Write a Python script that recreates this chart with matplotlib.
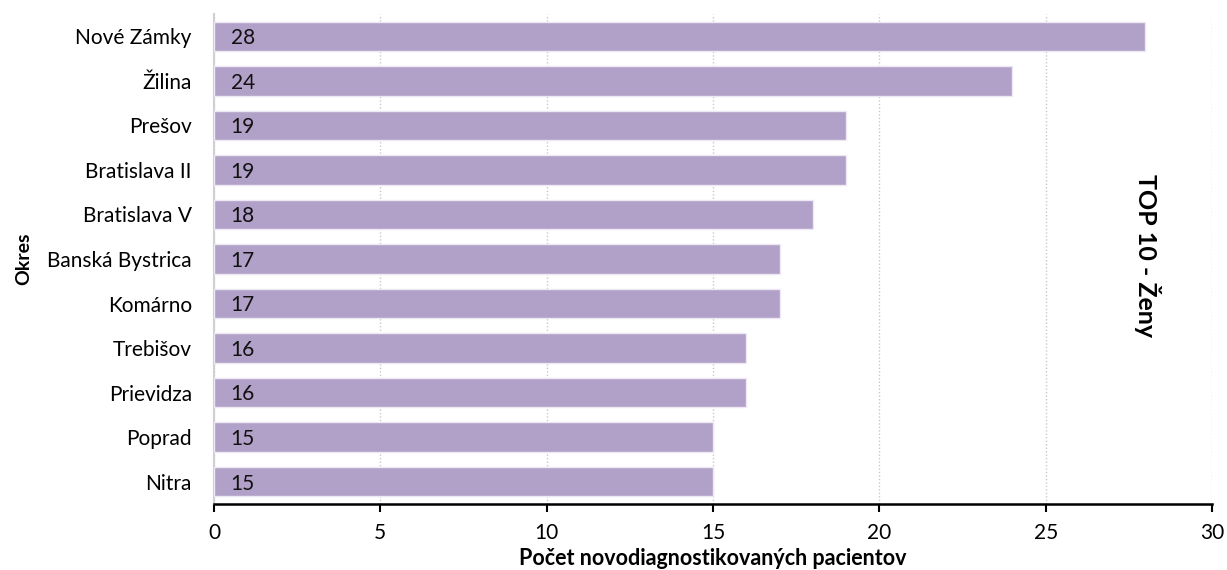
import matplotlib
matplotlib.use("Agg")
import matplotlib.pyplot as plt

districts = ["Nové Zámky", "Žilina", "Prešov", "Bratislava II", "Bratislava V",
             "Banská Bystrica", "Komárno", "Trebišov", "Prievidza", "Poprad", "Nitra"]
counts = [28, 24, 19, 19, 18, 17, 17, 16, 16, 15, 15]
x_ticks = [0, 5, 10, 15, 20, 25, 30]

plt.rcParams["font.family"] = ["Lato", "DejaVu Sans"]

fig = plt.figure(figsize=(12.27, 5.70), dpi=100)
ax = fig.add_axes([214 / 1227, 66 / 570, (1212 - 214) / 1227, (504 - 14) / 570])

ypos = list(range(len(districts)))
ax.barh(ypos, counts, height=0.66, color="#B1A0C7",
        edgecolor="#EDE8F3", linewidth=1.0, zorder=3)

for y, v in zip(ypos, counts):
    ax.text(0.5, y + 0.04, str(v), va="center", ha="left", fontsize=15,
            color="#111111", zorder=4)

ax.set_xlim(0, 30)
ax.set_ylim(len(districts) - 0.5, -0.5)
ax.set_xticks(x_ticks)
ax.set_xticklabels([str(t) for t in x_ticks], fontsize=15)
ax.set_yticks(ypos)
ax.set_yticklabels(districts, fontsize=15)
ax.tick_params(axis="y", length=0, pad=16)
ax.tick_params(axis="x", direction="out", length=6, width=1.5, pad=8)

ax.xaxis.grid(True, linestyle=(0, (1, 1.5)), color="#C8C8C8", linewidth=1, zorder=0)
ax.set_axisbelow(True)

for s in ("top", "right"):
    ax.spines[s].set_visible(False)
ax.spines["left"].set_color("#D0D0D0")
ax.spines["left"].set_linewidth(1.5)
ax.spines["bottom"].set_color("black")
ax.spines["bottom"].set_linewidth(1.8)

ax.set_xlabel("Počet novodiagnostikovaných pacientov", fontsize=15.5,
              fontweight="bold", labelpad=3)
ax.set_ylabel("Okres", fontsize=14, fontweight="bold", labelpad=11)

fig.text(1147 / 1227, 1 - 256 / 570, "TOP 10 - Ženy", rotation=-90,
         ha="center", va="center", fontsize=18, fontweight="bold")

fig.savefig("out.png", dpi=100)
